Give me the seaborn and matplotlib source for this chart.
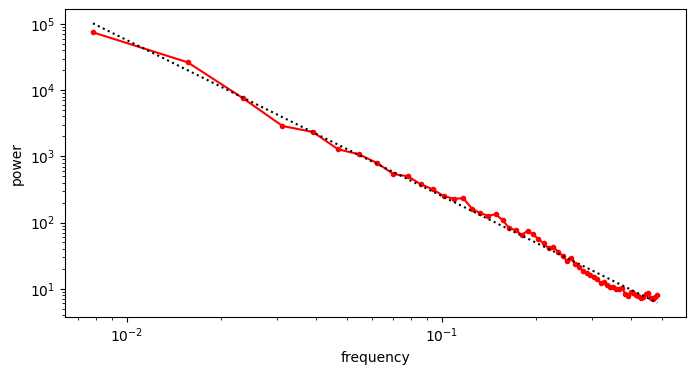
import numpy as np
import pandas as pd
import seaborn as sns
import matplotlib
matplotlib.use("Agg")
import matplotlib.pyplot as plt

# --- Data ---
# frequencies are k/128 for k = 1..62
harmonics = np.arange(1, 63)
frequency = harmonics / 128

power = [
    74600, 26300, 7520, 2870, 2330, 1280, 1070, 790, 540, 500,
    378, 318, 251, 229, 232, 162, 138, 127, 133, 109,
    82, 77, 65, 75, 66, 56, 48.5, 40.7, 43.1, 36.2,
    31.6, 26.3, 28.8, 23.4, 21.4, 18.6, 17.4, 16.1, 14.8, 13.8,
    12.1, 12.8, 11.4, 10.7, 10.5, 9.8, 10.0, 10.3, 8.3, 7.9,
    9.0, 8.6, 8.0, 7.7, 7.2, 7.6, 8.4, 8.5, 7.3, 7.0,
    7.6, 8.0,
]

# power-law fit, evaluated at the first and last frequency
fit_frequency = [1 / 128, 62 / 128]
fit_power = [1.02e5, 6.15]

spec = pd.DataFrame({"frequency": frequency, "power": power})
fit = pd.DataFrame({"frequency": fit_frequency, "power": fit_power})

fig, ax = plt.subplots(figsize=(6.94, 3.75), dpi=100)
fig.subplots_adjust(left=0.0932, right=0.9878, top=0.975, bottom=0.1555)

ax.set_xscale("log")
ax.set_yscale("log")

sns.lineplot(data=spec, x="frequency", y="power", ax=ax, color="red",
             marker=".", markersize=6, markeredgecolor="red",
             markeredgewidth=1, linewidth=1.5, sort=False, errorbar=None)
sns.lineplot(data=fit, x="frequency", y="power", ax=ax, color="black",
             linestyle=":", linewidth=1.5, sort=False, errorbar=None)

ax.set_xlabel("frequency")
ax.set_ylabel("power")

fig.savefig("out.png", dpi=100)
